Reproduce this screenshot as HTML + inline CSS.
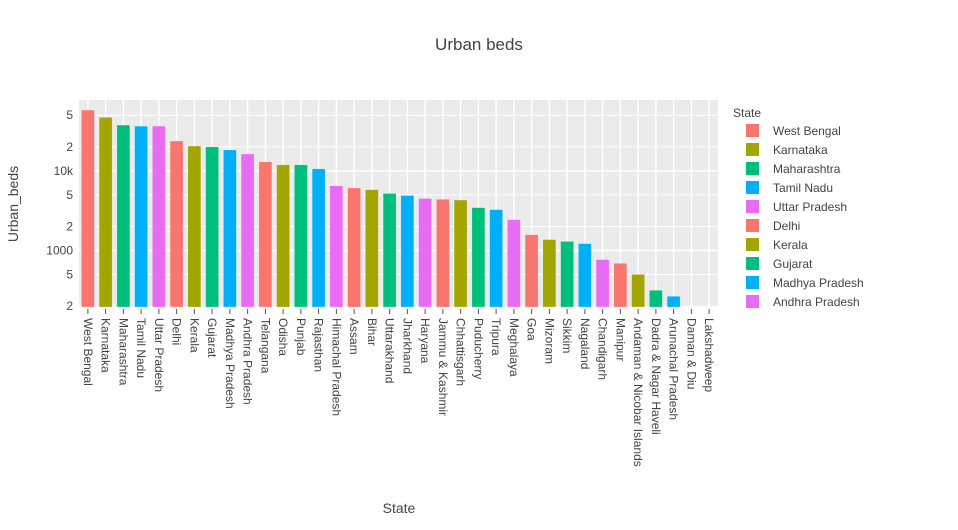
<!DOCTYPE html>
<html><head><meta charset="utf-8"><style>
body{margin:0;background:#fff;font-family:"Liberation Sans",sans-serif;}
text{font-family:"Liberation Sans",sans-serif;fill:#444;}
</style></head><body>
<svg id="c" width="958" height="525" xmlns="http://www.w3.org/2000/svg"></svg>
<script>
const categories=["West Bengal","Karnataka","Maharashtra","Tamil Nadu","Uttar Pradesh","Delhi","Kerala","Gujarat","Madhya Pradesh","Andhra Pradesh","Telangana","Odisha","Punjab","Rajasthan","Himachal Pradesh","Assam","Bihar","Uttarakhand","Jharkhand","Haryana","Jammu & Kashmir","Chhattisgarh","Puducherry","Tripura","Meghalaya","Goa","Mizoram","Sikkim","Nagaland","Chandigarh","Manipur","Andaman & Nicobar Islands","Dadra & Nagar Haveli","Arunachal Pradesh","Daman & Diu","Lakshadweep"];
const values=[58000,47000,37600,36500,36500,23700,20500,20000,18300,16300,13000,11900,11900,10600,6500,6100,5800,5200,4900,4500,4400,4300,3450,3260,2440,1580,1370,1300,1220,770,690,500,316,266,0,0];
const tickVals=[200,500,1000,2000,5000,10000,20000,50000];
const tickLabels=["2","5","1000","2","5","10k","2","5"];
const palette=["#F8766D","#A3A500","#00BF7D","#00B0F6","#E76BF3"];
const svg=document.getElementById('c');const NS="http://www.w3.org/2000/svg";
function mk(t,a,p){const e=document.createElementNS(NS,t);for(const k in a)e.setAttribute(k,a[k]);(p||svg).appendChild(e);return e;}
const L=79,R=718,T=100,B=307;const lo=2.29,hi=4.89;
const y=v=>B-(Math.log10(v)-lo)/(hi-lo)*(B-T);
const step=(R-L)/categories.length;const xc=i=>L+step*(i+0.5);
const bg=mk('rect',{x:L,y:T,width:R-L,height:B-T,fill:'#ebebeb'});


// minor grid
for(let d=2;d<=4;d++)for(const m of [2,5]){const v=m*Math.pow(10,d);const yy=y(v);if(yy<T||yy>B)continue;mk('line',{x1:L,x2:R,y1:yy,y2:yy,stroke:'#fff','stroke-width':1});}
for(let d=3;d<=4;d++){const yy=y(Math.pow(10,d));mk('line',{x1:L,x2:R,y1:yy,y2:yy,stroke:'#fff','stroke-width':1.5});}
categories.forEach((c,i)=>mk('line',{x1:xc(i),x2:xc(i),y1:T,y2:B,stroke:'#fff','stroke-width':1.5}));
tickVals.forEach((v,i)=>{const t=mk('text',{x:L-6,y:y(v)+4,'text-anchor':'end','font-size':12});t.textContent=tickLabels[i];

});
values.forEach((v,i)=>{
 if(v>0){const yt=Math.max(y(v),T);const r=mk('rect',{x:xc(i)-6.5,y:yt,width:13,height:B-yt,fill:palette[i%5],stroke:'rgba(255,255,255,0.5)','stroke-width':0.5});
 
 }
 mk('line',{x1:xc(i),x2:xc(i),y1:B+2,y2:B+7,stroke:'#555','stroke-width':1});
 const t=mk('text',{x:0,y:0,'font-size':12,transform:`translate(${xc(i)-4},${B+11}) rotate(90)`});t.textContent=categories[i];
 
 
});
const title=mk('text',{x:479,y:50,'text-anchor':'middle','font-size':17});title.textContent="Urban beds";

const xt=mk('text',{x:399,y:513,'text-anchor':'middle','font-size':14});xt.textContent="State";

const yt=mk('text',{x:0,y:0,'text-anchor':'middle','font-size':14,transform:'translate(18,204) rotate(-90)'});yt.textContent="Urban_beds";

const lt=mk('text',{x:733,y:117,'font-size':12});lt.textContent="State";

for(let i=0;i<10;i++){const g=mk('g',{});
 
 const yy=130+i*19;mk('rect',{x:746,y:yy-6,width:13,height:13,fill:palette[i%5]},g);
 const t=mk('text',{x:773,y:yy+5,'font-size':12},g);t.textContent=categories[i];}
</script>
</body></html>
